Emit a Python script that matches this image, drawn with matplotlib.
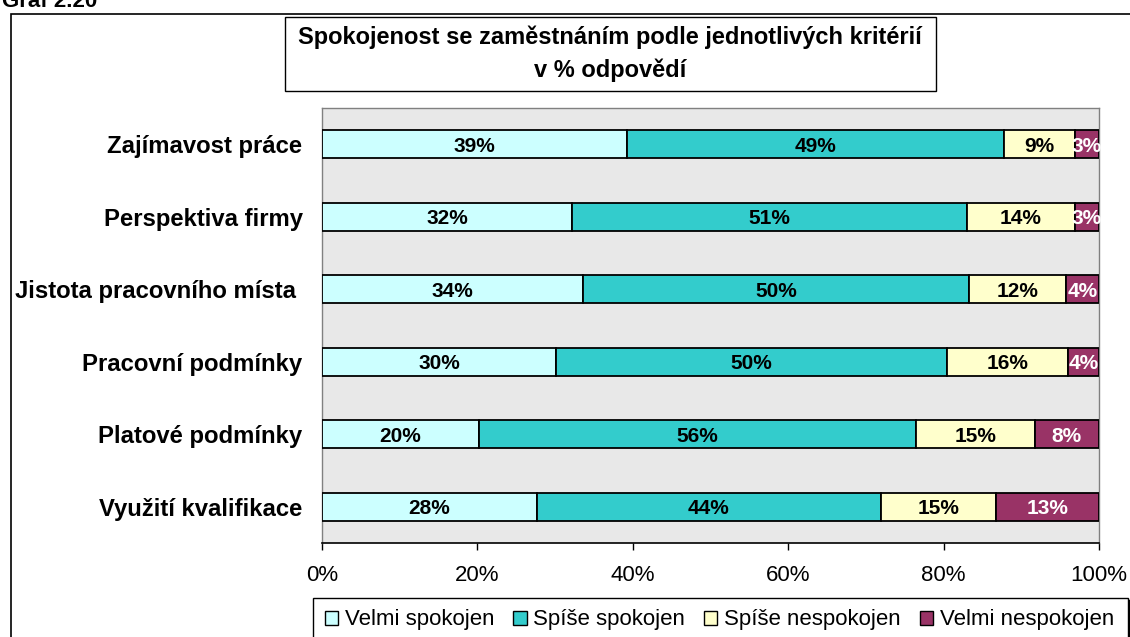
import numpy as np
import matplotlib.pyplot as plt
from matplotlib.patches import Rectangle, Patch
from matplotlib.lines import Line2D

# data (podíly v %)
kriteria = ['Zajímavost práce', 'Perspektiva firmy', 'Jistota pracovního místa ',
            'Pracovní podmínky', 'Platové podmínky', 'Využití kvalifikace']
velmi_spokojen = [39.2, 32.2, 33.6, 30.1, 20.2, 27.7]
spise_spokojen = [48.6, 50.8, 49.7, 50.3, 56.2, 44.2]
spise_nespokojen = [9.1, 13.9, 12.5, 15.6, 15.3, 14.9]
velmi_nespokojen = [3.1, 3.1, 4.2, 4.0, 8.3, 13.2]
serie = ['Velmi spokojen', 'Spíše spokojen', 'Spíše nespokojen', 'Velmi nespokojen']
xticks = [0, 20, 40, 60, 80, 100]

barvy = ['#CCFFFF', '#33CCCC', '#FFFFCC', '#993366']
barvy_textu = ['black', 'black', 'black', 'white']

plt.rcParams['font.family'] = ['Liberation Sans', 'DejaVu Sans']

W, H = 1130, 637
fig = plt.figure(figsize=(W / 100, H / 100), dpi=100)
fig.patch.set_facecolor('white')

def fx(px):
    return px / W

def fy(py):
    return 1 - py / H

ax = fig.add_axes([fx(322), fy(543), fx(1099) - fx(322), fy(108) - fy(543)])
ax.set_facecolor('#e8e8e8')

data = np.array([velmi_spokojen, spise_spokojen, spise_nespokojen, velmi_nespokojen])
y = np.arange(len(kriteria))
left = np.zeros(len(kriteria))
for i in range(4):
    ax.barh(y, data[i], left=left, height=0.39, color=barvy[i],
            edgecolor='black', linewidth=1.3, zorder=3)
    for j in range(len(kriteria)):
        ax.text(left[j] + data[i][j] / 2, y[j], f'{round(data[i][j]):.0f}%',
                ha='center', va='center_baseline', fontsize=15, fontweight='bold',
                color=barvy_textu[i], zorder=4)
    left = left + data[i]

ax.set_xlim(0, 100)
ax.set_ylim(len(kriteria) - 0.5, -0.5)
ax.set_xticks(xticks)
ax.set_xticklabels([f'{t}%' for t in xticks], fontsize=16)
ax.set_yticks(y)
ax.set_yticklabels(kriteria, fontsize=17.2, fontweight='bold')
ax.tick_params(axis='y', length=0, pad=14)
ax.tick_params(axis='x', length=5, width=1, direction='out', pad=11)
for s in ['left', 'top', 'right']:
    ax.spines[s].set_color('#808080')
    ax.spines[s].set_linewidth(1)
ax.spines['bottom'].set_color('black')
ax.spines['bottom'].set_linewidth(1.2)

# vnější rámeček grafu
fig.add_artist(Rectangle((fx(11), -0.1), 1.2, fy(14) + 0.1, transform=fig.transFigure,
                         fill=False, edgecolor='black', linewidth=1.2))

# "Graf 2.20" - nahoře oříznuté jako v předloze
fig.text(fx(2), fy(7), 'Graf 2.20', fontsize=16, fontweight='bold', ha='left', va='baseline')

# titulek v rámečku
fig.add_artist(Rectangle((fx(285), fy(91)), fx(936) - fx(285), fy(17) - fy(91),
                         transform=fig.transFigure, facecolor='white',
                         edgecolor='black', linewidth=1))
fig.text(fx(610), fy(37), 'Spokojenost se zaměstnáním podle jednotlivých kritérií',
         ha='center', va='center', fontsize=17, fontweight='bold')
fig.text(fx(610), fy(70), 'v % odpovědí', ha='center', va='center',
         fontsize=17, fontweight='bold')

# legenda
fig.add_artist(Rectangle((fx(313), -0.1), fx(1128) - fx(313), fy(598) + 0.1,
                         transform=fig.transFigure, facecolor='white',
                         edgecolor='black', linewidth=1))
fig.add_artist(Line2D([fx(1129.5), fx(1129.5)], [fy(601), 0], transform=fig.transFigure,
                      color='black', linewidth=2.5))
handles = [Patch(facecolor=barvy[i], edgecolor='black', linewidth=1) for i in range(4)]
fig.legend(handles, serie, loc='center left', bbox_to_anchor=(fx(325), fy(620)),
           ncol=4, frameon=False, fontsize=16, handlelength=0.6, handleheight=0.6,
           handletextpad=0.3, columnspacing=0.85, borderaxespad=0, borderpad=0)

fig.savefig('out.png', dpi=100)
